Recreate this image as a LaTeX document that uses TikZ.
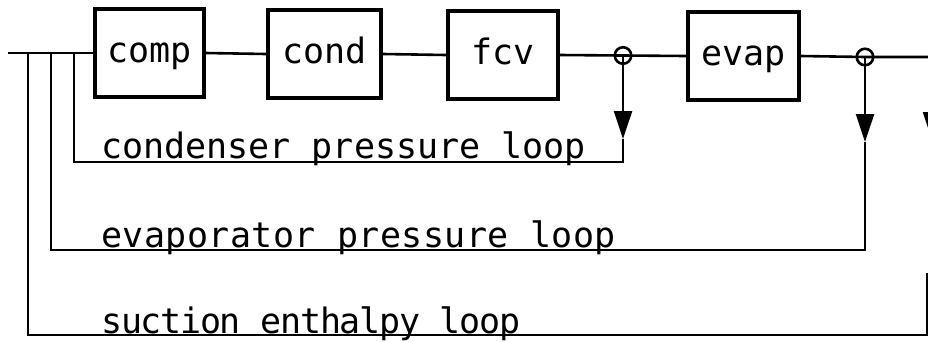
\documentclass[tikz,border=0pt]{standalone}
\usepackage{fontspec}
\newfontfamily\drawfont{DejaVu Sans Mono}
\usetikzlibrary{arrows.meta}
\begin{document}
\begin{tikzpicture}[x=1pt,y=-1pt,
  blockbox/.style={draw,line width=4pt,minimum width=#1,minimum height=88pt,inner sep=0pt,
     font=\drawfont\fontsize{35}{35}\selectfont,text height=19pt,text depth=0pt},
  sumjunc/.style={draw,circle,line width=2.6pt,minimum size=16.5pt,inner sep=0pt},
  sig/.style={line width=2.6pt},
  loopline/.style={line width=2.4pt},
  fbarrow/.style={line width=2.4pt,-{Triangle[length=28pt,width=18pt]}},
  looptext/.style={anchor=base west,inner sep=0pt,font=\drawfont\fontsize{35}{35}\selectfont}]
\useasboundingbox (0,0) rectangle (928,341);
\clip (0,0) rectangle (928,341);
% blocks
\node[blockbox=109pt] (comp) at (149.5,53) {comp};
\node[blockbox=113pt] (cond) at (324.5,54) {cond};
\node[blockbox=110pt] (fcv) at (503,55) {fcv};
\node[blockbox=111pt] (evap) at (743.5,56) {evap};
\node[sumjunc] (j1) at (623,55.5) {};
\node[sumjunc] (j2) at (865,57) {};
% coordinates
\coordinate (start) at (8,53);
\coordinate (tapA) at (28,53);
\coordinate (tapB) at (51,53);
\coordinate (tapC) at (74,53);
\coordinate (endR) at (928,57);
\coordinate (a1tip) at (623,139);
\coordinate (a2tip) at (865,142);
\coordinate (c1) at (623,162);
\coordinate (c1l) at (74,162);
\coordinate (c2) at (865,250);
\coordinate (c2l) at (51,250);
\coordinate (c3l) at (28,335);
\coordinate (c3r) at (927,335);
\coordinate (c3top) at (927,273);
\coordinate (a3top) at (932,95);
\coordinate (a3tip) at (932,140);
% forward path
\draw[sig] (start) -- (comp.west);
\draw[sig] (comp.east) -- (cond.west);
\draw[sig] (cond.east) -- (fcv.west);
\draw[sig] (fcv.east) -- (j1.center) -- (evap.west);
\draw[sig] (evap.east) -- (j2.center) -- (endR);
% feedback arrows
\draw[fbarrow] (j1.center) -- (a1tip);
\draw[fbarrow] (j2.center) -- (a2tip);
\draw[fbarrow] (a3top) -- (a3tip);
% loops
\draw[loopline] (a1tip) -- (c1) -- (c1l) -- (tapC);
\draw[loopline] (a2tip) -- (c2) -- (c2l) -- (tapB);
\draw[loopline] (c3top) -- (c3r) -- (c3l) -- (tapA);
% loop labels
\node[looptext] (t1) at (101,158) {condenser pressure loop};
\node[looptext] (t2) at (101,247) {\addfontfeature{LetterSpace=1.2}evaporator pressure loop};
\node[looptext] (t3) at (101,333) {\addfontfeature{LetterSpace=-3.7}suction enthalpy loop};
\end{tikzpicture}
\end{document}
